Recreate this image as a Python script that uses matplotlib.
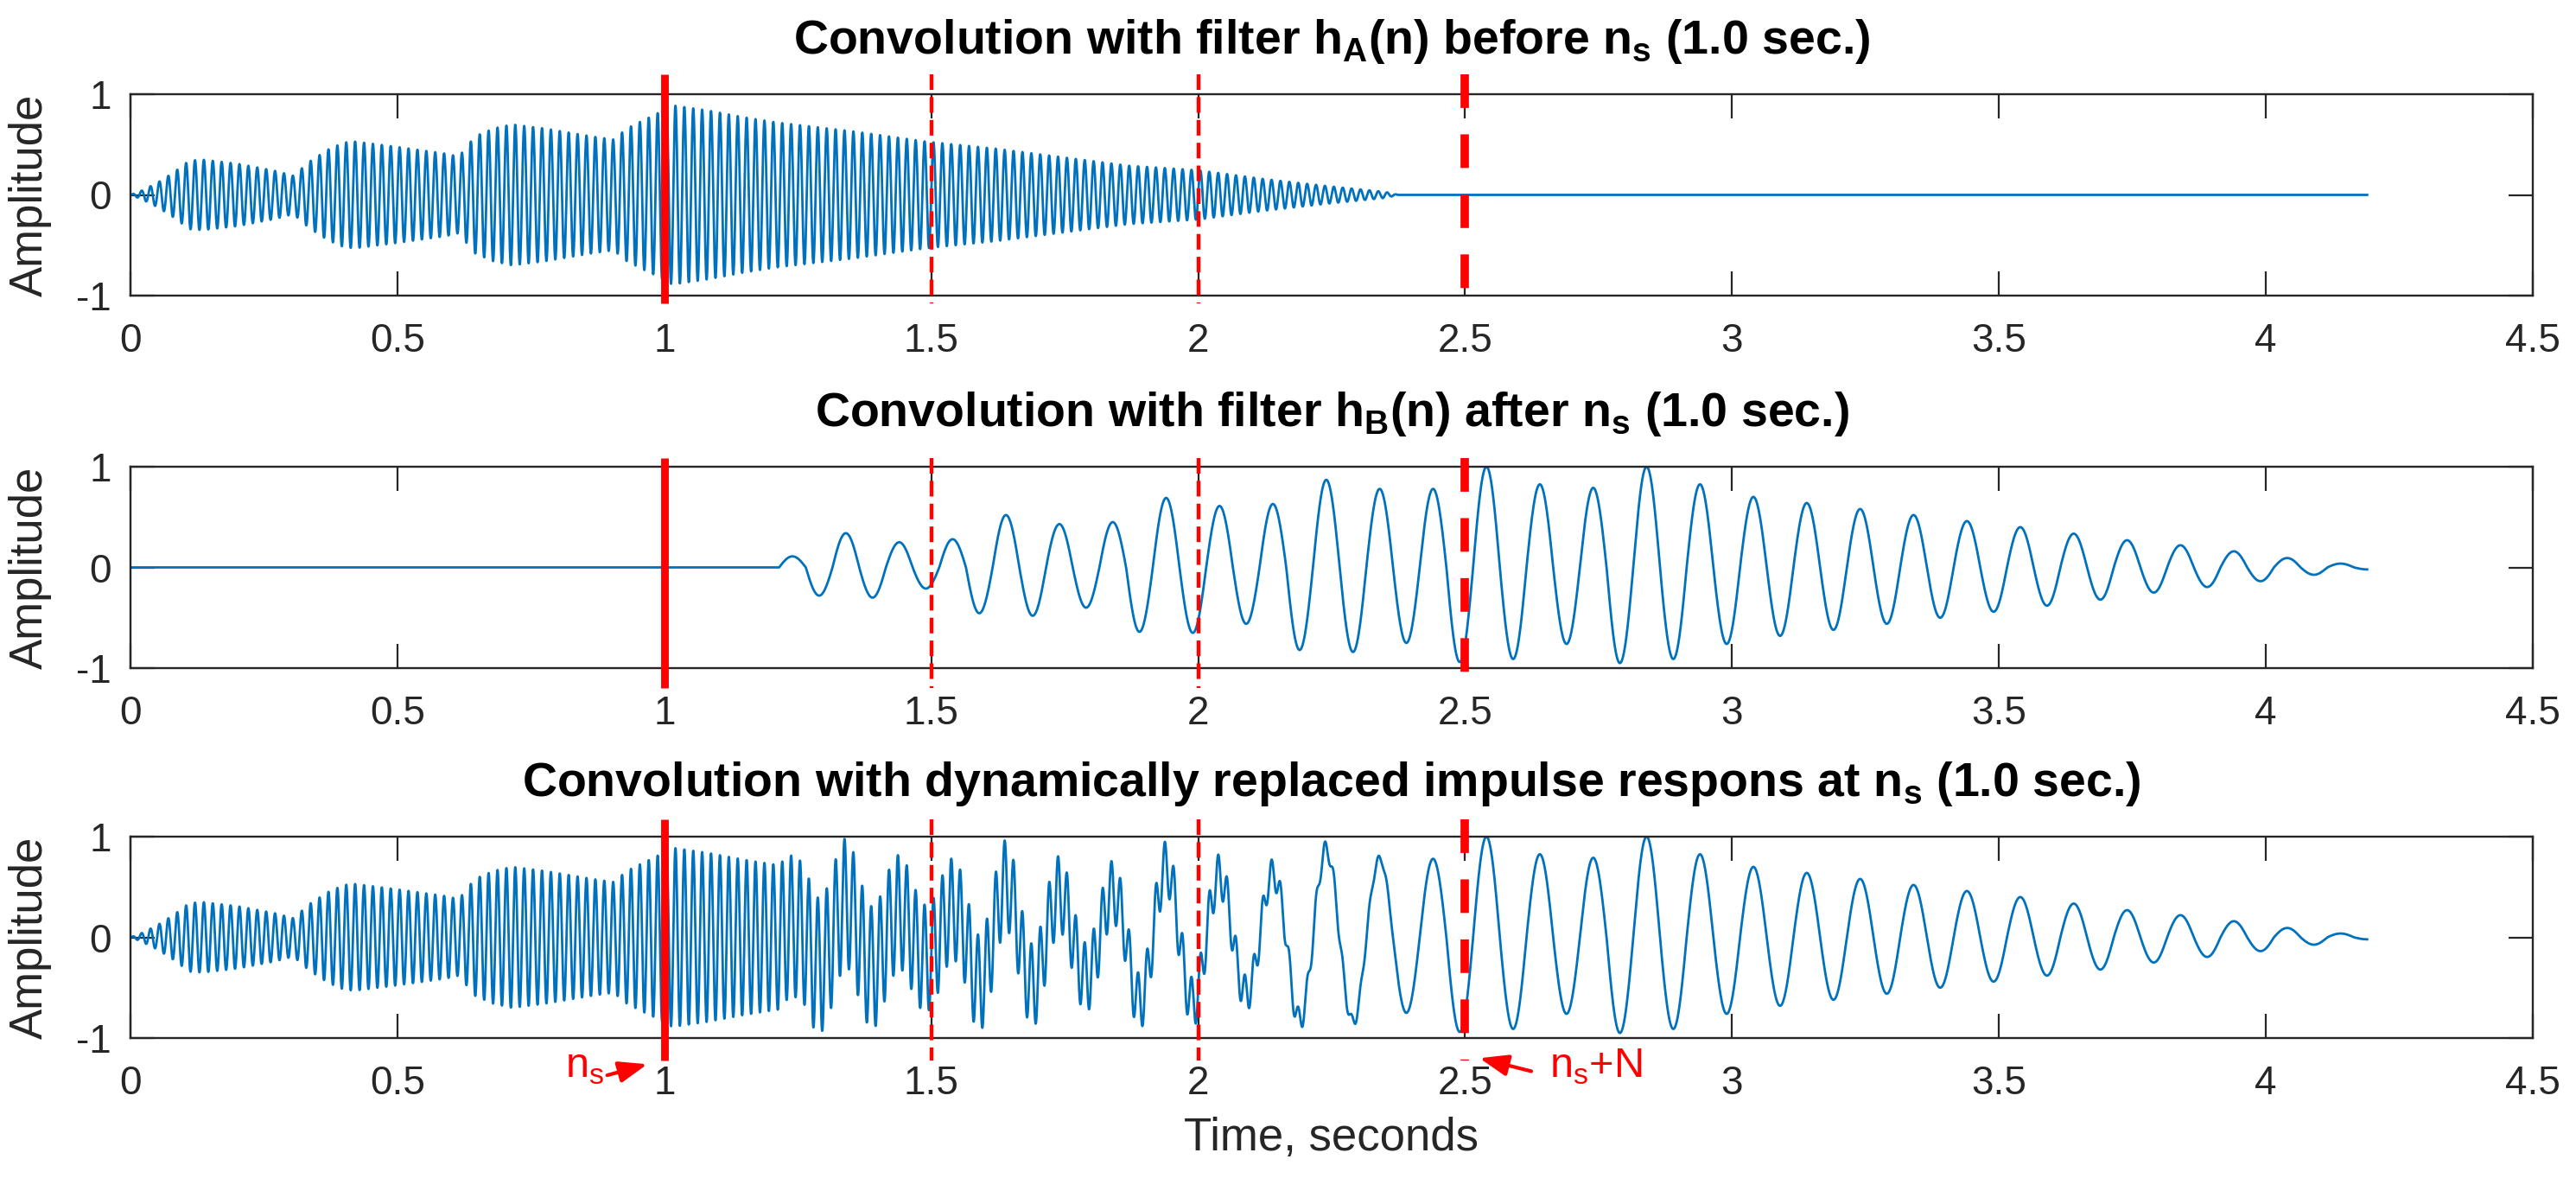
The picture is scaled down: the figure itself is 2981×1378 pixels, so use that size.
import numpy as np
import matplotlib
matplotlib.use("Agg")
import matplotlib.pyplot as plt
from matplotlib.ticker import FuncFormatter

# --- DATA ---
T_END = 4.19      # both responses end here (s)
FS = 4000         # drawing resolution, samples per second

# response through h_A: 60 Hz tone, envelope read at these times
FREQ_A = 60.0
ENV_A_T = [0.0, 0.02, 0.05, 0.08, 0.11, 0.135, 0.2, 0.27, 0.305, 0.335, 0.37,
           0.40, 0.42, 0.495, 0.59, 0.615, 0.645, 0.68, 0.715, 0.775, 0.865,
           0.905, 0.93, 0.96, 0.98, 1.015, 1.08, 1.15, 1.21, 1.355, 1.49,
           1.62, 1.745, 1.87, 2.0, 2.12, 2.245, 2.35, 2.375]
ENV_A_V = [0.0, 0.04, 0.12, 0.22, 0.34, 0.35, 0.31, 0.24, 0.19, 0.33, 0.45,
           0.52, 0.53, 0.48, 0.41, 0.38, 0.58, 0.66, 0.70, 0.66, 0.58,
           0.55, 0.66, 0.74, 0.79, 0.89, 0.84, 0.77, 0.72, 0.63, 0.53,
           0.46, 0.375, 0.29, 0.245, 0.16, 0.086, 0.03, 0.0]

# response through h_B: 10 Hz tone from B_START, one extreme value per half cycle
FREQ_B = 10.0
B_START = 1.215
B_PEAKS = [0.11, -0.28, 0.34, -0.30, 0.25, -0.21, 0.28, -0.455, 0.52, -0.48,
           0.43, -0.40, 0.45, -0.64, 0.69, -0.65, 0.61, -0.56, 0.63, -0.82,
           0.87, -0.84, 0.78, -0.75, 0.78, -0.94, 1.0, -0.91, 0.825, -0.76,
           0.79, -0.95, 1.0, -0.91, 0.825, -0.76, 0.70, -0.68, 0.64, -0.62,
           0.58, -0.56, 0.52, -0.50, 0.46, -0.44, 0.40, -0.38, 0.335, -0.32,
           0.27, -0.25, 0.22, -0.195, 0.16, -0.137, 0.093, -0.073, 0.038, -0.02]

NS = 1.0          # switch instant n_s (s)
N_LEN = 1.5       # n_s + N (s)
MARK_T = [1.0, 1.5, 2.0, 2.5]
MARK_KIND = ['solid', 'thin', 'thin', 'thick']

TITLES = [
    r'Convolution with filter h$_\mathbf{A}$(n) before n$_\mathbf{s}$ (1.0 sec.)',
    r'Convolution with filter h$_\mathbf{B}$(n) after n$_\mathbf{s}$ (1.0 sec.)',
    r'Convolution with dynamically replaced impulse respons at n$_\mathbf{s}$ (1.0 sec.)',
]

# --- build the traces ---
t = np.arange(0, T_END, 1.0 / FS)
sig_a = np.interp(t, ENV_A_T, ENV_A_V, right=0.0) * np.sin(2 * np.pi * FREQ_A * t)

tb = t - B_START
k = np.floor(tb * 2 * FREQ_B).astype(int)
ok = (k >= 0) & (k < len(B_PEAKS))
sig_b = np.zeros_like(t)
sig_b[ok] = np.abs(np.sin(2 * np.pi * FREQ_B * tb[ok])) * np.array(B_PEAKS)[k[ok]]

sig_c = sig_a + sig_b
signals = [sig_a, sig_b, sig_c]

# --- style ---
plt.rcParams['font.family'] = ['Liberation Sans', 'DejaVu Sans']
plt.rcParams['mathtext.fontset'] = 'custom'
plt.rcParams['mathtext.rm'] = 'Liberation Sans'
plt.rcParams['mathtext.bf'] = 'Liberation Sans:bold'
plt.rcParams['axes.unicode_minus'] = False
plt.rcParams['lines.scale_dashes'] = False

BLUE = '#0072BD'
DARK = '#262626'
W, H = 2981, 1378
LEFT, RIGHT = 151, 2931
TOPS = [109, 540, 968]
AX_H = 233
RED_SPAN = [(1.2, -1.08), (1.09, -1.2), (1.17, -1.22)]
MARK_LW = {'solid': 3.2, 'thin': 1.6, 'thick': 3.5}
MARK_LS = {'solid': '-', 'thin': (0, (6.5, 3.0)), 'thick': (0, (14, 11))}

fig = plt.figure(figsize=(W / 200, H / 200), dpi=200)
fmt = FuncFormatter(lambda v, p: '%g' % v)

axes = []
for i in range(3):
    ax = fig.add_axes([LEFT / W, 1 - (TOPS[i] + AX_H) / H, (RIGHT - LEFT) / W, AX_H / H])
    ax.plot(t, signals[i], color=BLUE, lw=1.0, zorder=2)
    for x, kind in zip(MARK_T, MARK_KIND):
        ax.plot([x, x], RED_SPAN[i], color='red', lw=MARK_LW[kind],
                linestyle=MARK_LS[kind], solid_capstyle='butt',
                clip_on=False, zorder=3)
    ax.set_xlim(0, 4.5)
    ax.set_ylim(-1, 1)
    ax.set_xticks(np.arange(0, 4.51, 0.5))
    ax.set_yticks([-1, 0, 1])
    ax.xaxis.set_major_formatter(fmt)
    ax.yaxis.set_major_formatter(fmt)
    ax.tick_params(direction='in', length=10, width=0.8, top=True, right=True,
                   labelsize=16.5, colors=DARK)
    ax.tick_params(axis='x', pad=11)
    ax.tick_params(axis='y', pad=8)
    for s in ax.spines.values():
        s.set_linewidth(0.85)
        s.set_color(DARK)
    ax.set_ylabel('Amplitude', fontsize=19, color=DARK, labelpad=10)
    ax.set_title(TITLES[i], fontsize=20, fontweight='bold', pad=17)
    axes.append(ax)

axes[2].set_xlabel('Time, seconds', fontsize=19, color=DARK, labelpad=6)

# markers for n_s and n_s+N below the last panel
ax = axes[2]
arrow = dict(arrowstyle='-|>,head_length=0.4,head_width=0.15', color='red',
             lw=1.5, mutation_scale=25, shrinkA=0, shrinkB=0)
ax.annotate('', xy=(NS - 0.032, -1.26), xytext=(NS - 0.107, -1.37),
            arrowprops=arrow, annotation_clip=False)
ax.text(NS - 0.186, -1.39, r'n$_\mathrm{s}$', color='red', fontsize=17.5,
        ha='left', va='baseline', clip_on=False)
ax.annotate('', xy=(NS + N_LEN + 0.027, -1.20), xytext=(NS + N_LEN + 0.124, -1.33),
            arrowprops=arrow, annotation_clip=False)
ax.text(NS + N_LEN + 0.158, -1.39, r'n$_\mathrm{s}$+N', color='red', fontsize=17.5,
        ha='left', va='baseline', clip_on=False)

fig.savefig('out.png', dpi=200)
